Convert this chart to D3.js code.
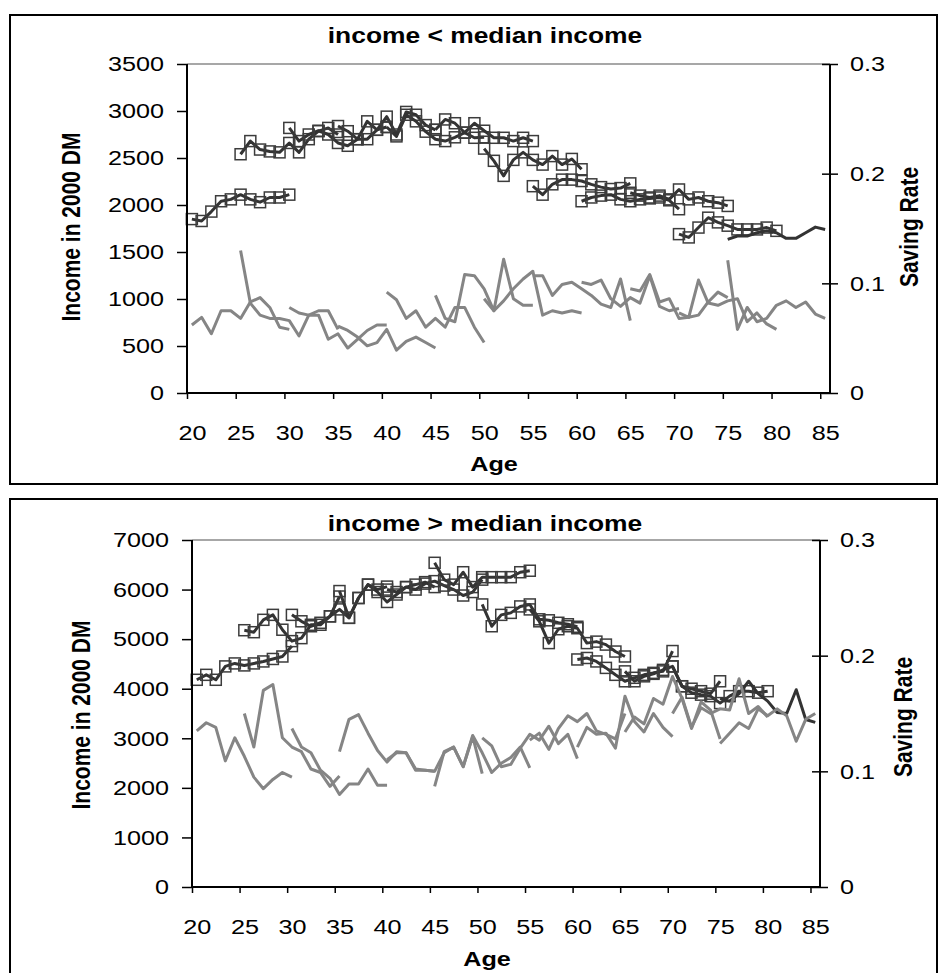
<!DOCTYPE html>
<html>
<head>
<meta charset="utf-8">
<script src="https://cdn.jsdelivr.net/npm/d3@7/dist/d3.min.js"></script>
<style>
  body { margin: 0; background: #fff; }
  text { font-family: "Liberation Sans", Arial, sans-serif; fill: #000; }
</style>
</head>
<body>
<svg id="chart" width="939" height="973"></svg>
<script>
// Each cohort is followed for 11 consecutive ages, starting at these ages.
const cohortStarts = [20, 25, 30, 35, 40, 45, 50, 55, 60, 65, 70, 75];
const ageTicks = [20, 25, 30, 35, 40, 45, 50, 55, 60, 65, 70, 75, 80, 85];
const lowIncomeTicks = [0, 500, 1000, 1500, 2000, 2500, 3000, 3500];
const highIncomeTicks = [0, 1000, 2000, 3000, 4000, 5000, 6000, 7000];
const rateTicks = [0, 0.1, 0.2, 0.3];

// Households below median income: income (2000 DM) per cohort, by age
const lowIncome = [
  [1850, 1830, 1930, 2040, 2060, 2110, 2060, 2030, 2080, 2080, 2110],
  [2540, 2680, 2590, 2570, 2560, 2660, 2560, 2700, 2785, 2820, 2750],
  [2820, 2680, 2750, 2790, 2750, 2660, 2630, 2700, 2890, 2800, 2830],
  [2840, 2785, 2700, 2700, 2800, 2940, 2750, 2990, 2960, 2850, 2800],
  [2830, 2730, 2960, 2890, 2780, 2700, 2680, 2720, 2770, 2715, 2720],
  [2800, 2910, 2870, 2770, 2870, 2790, 2715, 2715, 2680, 2715, 2680],
  [2600, 2470, 2310, 2480, 2560, 2480, 2430, 2520, 2430, 2490, 2380],
  [2200, 2110, 2220, 2270, 2270, 2255, 2220, 2190, 2170, 2180, 2230],
  [2040, 2080, 2100, 2110, 2060, 2040, 2060, 2070, 2080, 2050, 1955],
  [2130, 2100, 2080, 2100, 2060, 2165, 2060, 2080, 2040, 2025, 1990],
  [1690, 1655, 1760, 1865, 1815, 1780, 1740, 1740, 1740, 1760, 1725],
  [1635, 1670, 1670, 1705, 1725, 1705, 1645, 1645, 1705, 1765, 1740]
];

// Households below median income: saving rate per cohort, by age
const lowSaving = [
  [0.062, 0.069, 0.054, 0.075, 0.075, 0.068, 0.083, 0.087, 0.078, 0.060, 0.058],
  [0.130, 0.082, 0.071, 0.068, 0.068, 0.066, 0.052, 0.071, 0.075, 0.075, 0.058],
  [0.078, 0.073, 0.071, 0.071, 0.049, 0.054, 0.041, 0.049, 0.057, 0.062, 0.062],
  [0.061, 0.057, 0.051, 0.043, 0.046, 0.058, 0.039, 0.047, 0.051, 0.046, 0.041],
  [0.092, 0.085, 0.068, 0.075, 0.060, 0.068, 0.060, 0.078, 0.078, 0.060, 0.046],
  [0.089, 0.068, 0.065, 0.108, 0.107, 0.095, 0.075, 0.122, 0.086, 0.080, 0.080],
  [0.086, 0.075, 0.084, 0.095, 0.104, 0.111, 0.071, 0.075, 0.073, 0.075, 0.073],
  [0.107, 0.107, 0.089, 0.099, 0.101, 0.095, 0.089, 0.081, 0.078, 0.104, 0.066],
  [0.101, 0.099, 0.103, 0.086, 0.079, 0.087, 0.082, 0.107, 0.079, 0.075, 0.077],
  [0.095, 0.093, 0.108, 0.083, 0.086, 0.068, 0.069, 0.071, 0.083, 0.092, 0.087],
  [0.073, 0.069, 0.103, 0.082, 0.080, 0.084, 0.086, 0.065, 0.073, 0.063, 0.058],
  [0.121, 0.058, 0.078, 0.065, 0.068, 0.080, 0.084, 0.078, 0.083, 0.072, 0.068]
];

// Households above median income: income (2000 DM) per cohort, by age
const highIncome = [
  [4180, 4280, 4180, 4450, 4510, 4470, 4510, 4550, 4600, 4650, 4860],
  [5180, 5140, 5390, 5490, 5190, 4960, 5020, 5290, 5290, 5460, 5860],
  [5490, 5360, 5260, 5330, 5460, 5600, 5430, 5830, 6100, 6000, 6060],
  [5970, 5430, 5830, 6100, 5950, 5750, 5900, 6050, 6100, 6150, 6050],
  [6000, 5950, 6050, 6000, 6120, 6170, 6080, 6000, 5880, 5950, 6200],
  [6540, 6200, 6100, 6350, 6050, 6250, 6250, 6250, 6250, 6350, 6380],
  [5700, 5260, 5490, 5530, 5660, 5700, 5400, 5380, 5330, 5300, 5250],
  [5600, 5360, 4920, 5200, 5260, 5220, 4920, 4950, 4890, 4750, 4650],
  [4590, 4620, 4550, 4420, 4280, 4150, 4220, 4280, 4320, 4350, 4760],
  [4350, 4150, 4250, 4300, 4380, 4450, 4050, 4000, 3950, 3900, 4150],
  [4450, 4050, 3920, 3880, 3850, 3710, 3850, 3950, 3950, 3920, 3950],
  [3800, 3750, 3900, 4150, 3900, 3750, 3520, 3500, 3980, 3380, 3320]
];

// Households above median income: saving rate per cohort, by age
const highSaving = [
  [0.135, 0.142, 0.138, 0.109, 0.129, 0.113, 0.095, 0.085, 0.093, 0.099, 0.095],
  [0.150, 0.121, 0.170, 0.175, 0.129, 0.121, 0.117, 0.102, 0.099, 0.087, 0.096],
  [0.137, 0.121, 0.116, 0.101, 0.094, 0.080, 0.089, 0.089, 0.102, 0.088, 0.088],
  [0.117, 0.145, 0.149, 0.133, 0.118, 0.108, 0.117, 0.116, 0.102, 0.101, 0.100],
  [0.110, 0.116, 0.116, 0.101, 0.101, 0.100, 0.116, 0.121, 0.104, 0.130, 0.098],
  [0.087, 0.117, 0.121, 0.104, 0.131, 0.116, 0.099, 0.107, 0.112, 0.121, 0.103],
  [0.129, 0.122, 0.104, 0.106, 0.120, 0.132, 0.127, 0.139, 0.124, 0.132, 0.111],
  [0.127, 0.133, 0.119, 0.137, 0.148, 0.143, 0.150, 0.135, 0.132, 0.128, 0.150],
  [0.121, 0.138, 0.132, 0.133, 0.120, 0.165, 0.143, 0.134, 0.150, 0.138, 0.130],
  [0.134, 0.147, 0.141, 0.163, 0.158, 0.182, 0.163, 0.137, 0.160, 0.153, 0.128],
  [0.150, 0.164, 0.138, 0.155, 0.150, 0.154, 0.153, 0.180, 0.150, 0.156, 0.147],
  [0.124, 0.133, 0.142, 0.137, 0.154, 0.148, 0.154, 0.148, 0.126, 0.145, 0.150]
];

const svg = d3.select("#chart");
const SX = 1.2;          // horizontal widening applied to all lettering
const FONT = 21;

// widen a text element horizontally around its own anchor point
function widen(sel) {
  sel.each(function () {
    const t = d3.select(this);
    const x = (+t.attr("x") || 0) + (parseFloat(t.attr("dx")) || 0);
    t.attr("x", x / SX).attr("dx", null).attr("transform", `scale(${SX},1)`);
  });
}

function drawPanel(cfg) {
  const g = svg.append("g");

  // outer frame
  g.append("rect")
    .attr("x", cfg.box[0]).attr("y", cfg.box[1])
    .attr("width", cfg.box[2] - cfg.box[0]).attr("height", cfg.box[3] - cfg.box[1])
    .attr("fill", "none").attr("stroke", "#000").attr("stroke-width", 2);

  // category axis: one slot per age, points sit in the middle of their slot
  const x = d3.scaleLinear().domain([20, 86]).range([cfg.left, cfg.right]);
  const y = d3.scaleLinear().domain([0, cfg.incomeMax]).range([cfg.bottom, cfg.top]);
  const yr = d3.scaleLinear().domain([0, 0.3]).range([cfg.bottom, cfg.top]);
  const px = a => x(a + 0.5);

  // plot-area top edge
  g.append("line")
    .attr("x1", cfg.left).attr("x2", cfg.right)
    .attr("y1", cfg.top).attr("y2", cfg.top)
    .attr("stroke", "#8a8a8a").attr("stroke-width", 1.5);

  const incomeLine = d3.line().x(d => px(d.age)).y(d => y(d.v));
  const rateLine = d3.line().x(d => px(d.age)).y(d => yr(d.v));

  // income series (dark, open square markers; youngest-to-oldest cohorts)
  cfg.income.forEach((row, i) => {
    const start = cohortStarts[i];
    const pts = row.map((v, k) => ({ age: start + k, v }));
    g.append("path").datum(pts)
      .attr("d", incomeLine)
      .attr("fill", "none").attr("stroke", "#333")
      .attr("stroke-width", 3).attr("stroke-linejoin", "round");
    if (i < cohortStarts.length - 1) {
      g.selectAll(null).data(pts).enter().append("rect")
        .attr("x", d => px(d.age) - 5.5).attr("y", d => y(d.v) - 5.5)
        .attr("width", 11).attr("height", 11)
        .attr("fill", "none").attr("stroke", "#3c3c3c").attr("stroke-width", 1.5);
    }
  });

  // saving-rate series (grey)
  cfg.saving.forEach((row, i) => {
    const start = cohortStarts[i];
    const pts = row.map((v, k) => ({ age: start + k, v }));
    g.append("path").datum(pts)
      .attr("d", rateLine)
      .attr("fill", "none").attr("stroke", "#858585")
      .attr("stroke-width", 3).attr("stroke-linejoin", "round");
  });

  // left axis
  const ay = g.append("g").attr("transform", `translate(${cfg.left},0)`)
    .call(d3.axisLeft(y).tickValues(cfg.incomeTicks).tickSize(10).tickPadding(13).tickFormat(d3.format("d")));
  // right axis (ticks cross the line)
  const ar = g.append("g").attr("transform", `translate(${cfg.right},0)`)
    .call(d3.axisRight(yr).tickValues(rateTicks).tickSize(0).tickPadding(20)
      .tickFormat(d => d === 0 ? "0" : d3.format(".1f")(d)));
  ar.selectAll(".tick").append("line").attr("x1", -8).attr("x2", 8);
  // bottom axis, labels centred in their category slot
  const ax = g.append("g").attr("transform", `translate(0,${cfg.bottom})`)
    .call(d3.axisBottom(x).tickValues(ageTicks).tickSize(6).tickPadding(26).tickFormat(d3.format("d")));
  ax.selectAll(".tick text").attr("dx", (x(20.5) - x(20)).toFixed(1));

  [ay, ar, ax].forEach(a => {
    a.select(".domain").attr("stroke", "#000").attr("stroke-width", 2);
    a.selectAll(".tick line").attr("stroke", "#000").attr("stroke-width", 1.5);
    a.selectAll(".tick text").attr("font-size", FONT).attr("fill", "#000").call(widen);
  });
  ay.select(".domain").attr("d", `M0,${cfg.bottom}V${cfg.top}`);
  ar.select(".domain").attr("d", `M0,${cfg.bottom}V${cfg.top}`);
  ax.select(".domain").attr("d", `M${cfg.left},0H${cfg.right}`);

  // titles
  g.append("text").attr("x", cfg.titleX).attr("y", cfg.titleY)
    .attr("text-anchor", "middle").attr("font-weight", "bold").attr("font-size", 22)
    .text(cfg.title).call(widen);
  g.append("text").attr("x", cfg.ageX).attr("y", cfg.ageY)
    .attr("text-anchor", "middle").attr("font-weight", "bold").attr("font-size", FONT)
    .text("Age").call(widen);
  g.append("text")
    .attr("transform", `translate(${cfg.incLabelX},${cfg.incLabelY}) rotate(-90) scale(1,${SX})`)
    .attr("text-anchor", "middle").attr("font-weight", "bold").attr("font-size", FONT)
    .text("Income in 2000 DM");
  g.append("text")
    .attr("transform", `translate(${cfg.rateLabelX},${cfg.rateLabelY}) rotate(-90) scale(1,${SX})`)
    .attr("text-anchor", "middle").attr("font-weight", "bold").attr("font-size", FONT)
    .text("Saving Rate");
}

drawPanel({
  box: [10, 15, 937, 484],
  left: 187, right: 830, top: 64, bottom: 393,
  incomeMax: 3500, incomeTicks: lowIncomeTicks,
  income: lowIncome, saving: lowSaving,
  title: "income < median income", titleX: 485, titleY: 43,
  ageX: 494, ageY: 471,
  incLabelX: 80, incLabelY: 227,
  rateLabelX: 918, rateLabelY: 227
});

drawPanel({
  box: [10, 499, 937, 990],
  left: 192, right: 820, top: 540, bottom: 887,
  incomeMax: 7000, incomeTicks: highIncomeTicks,
  income: highIncome, saving: highSaving,
  title: "income > median income", titleX: 485, titleY: 531,
  ageX: 487, ageY: 966,
  incLabelX: 90, incLabelY: 715,
  rateLabelX: 912, rateLabelY: 717
});
</script>
</body>
</html>
